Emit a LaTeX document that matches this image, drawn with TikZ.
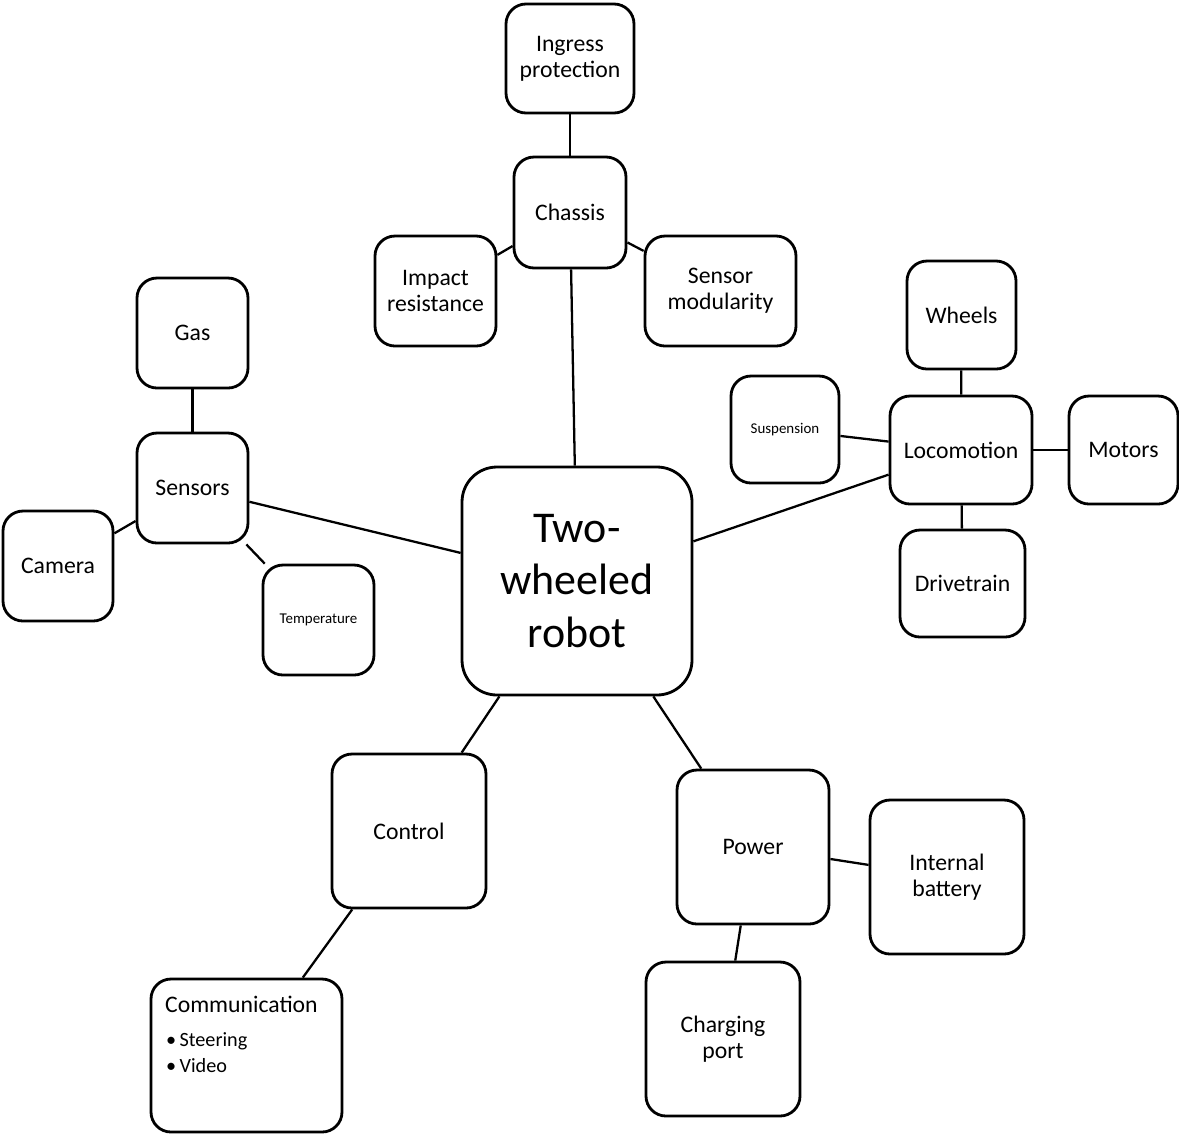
\documentclass[tikz,border=0pt]{standalone}
\usepackage{fontspec}
\setmainfont{Carlito}

\begin{document}
\begin{tikzpicture}[x=0.02cm, y=-0.02cm, line width=1.3pt,
    box/.style 2 args={draw, line width=1.6pt, rounded corners=0.4cm, align=center, inner sep=2pt,
        minimum width=#1*0.02cm, minimum height=#2*0.02cm, font=\fontsize{13.5}{14.7}\selectfont},
    small/.style={font=\fontsize{8.5}{10}\selectfont}]
    \useasboundingbox (0,0) rectangle (1179,1134);
    %%%%%%%%%%%%%%% Centre
    \node[box={230}{228}, rounded corners=0.7cm, font=\fontsize{25}{30}\selectfont] (robot) at (577,581) {Two-\\wheeled\\robot};
    %%%%%%%%%%%%%%% Chassis branch
    \node[box={112}{111}] (chassis) at (570,212.5) {Chassis};
    \node[box={128}{109}] (ingress) at (570,58.5) {Ingress\\protection};
    \node[box={121}{110}] (impact) at (435.5,291) {Impact\\resistance};
    \node[box={151}{110}] (sensmod) at (720.5,291) {Sensor\\modularity};
    %%%%%%%%%%%%%%% Sensors branch
    \node[box={111}{110}] (sensors) at (192.5,488) {Sensors};
    \node[box={111}{110}] (gas) at (192.5,333) {Gas};
    \node[box={110}{110}] (camera) at (58,566) {Camera};
    \node[box={111}{110}, small] (temp) at (318.5,620) {Temperature};
    %%%%%%%%%%%%%%% Locomotion branch
    \node[box={142}{108}] (loco) at (961,450) {Locomotion};
    \node[box={109}{108}] (wheels) at (961.5,315) {Wheels};
    \node[box={108}{107}, small] (susp) at (785,429.5) {Suspension};
    \node[box={109}{108}] (motors) at (1123.5,450) {Motors};
    \node[box={125}{107}] (drive) at (962.5,583.5) {Drivetrain};
    %%%%%%%%%%%%%%% Control branch
    \node[box={154}{154}] (control) at (409,831) {Control};
    \node[box={191}{153}] (comm) at (246.5,1055.5) {};
    \node[anchor=base west, inner sep=0pt, font=\fontsize{13.5}{14}\selectfont] (commtitle) at (164,1012) {Communication};
    \node[anchor=base west, inner sep=0pt, font=\fontsize{11.5}{12}\selectfont] (steer) at (165,1046) {\textbullet\,Steering};
    \node[anchor=base west, inner sep=0pt, font=\fontsize{11.5}{12}\selectfont] (video) at (165,1072) {\textbullet\,Video};
    %%%%%%%%%%%%%%% Power branch
    \node[box={152}{154}] (power) at (753,847) {Power};
    \node[box={154}{154}] (battery) at (947,877) {Internal\\battery};
    \node[box={154}{154}] (charging) at (723,1039) {Charging\\port};
    %%%%%%%%%%%%%%% Connectors
    \foreach \a/\b in {ingress/chassis, chassis/robot, chassis/impact, chassis/sensmod,
        gas/sensors, sensors/robot, sensors/camera, sensors/temp,
        robot/loco, wheels/loco, susp/loco, loco/motors, loco/drive,
        robot/control, control/comm, robot/power, power/battery, power/charging} {
        \draw (\a) -- (\b);
    }
\end{tikzpicture}
\end{document}
